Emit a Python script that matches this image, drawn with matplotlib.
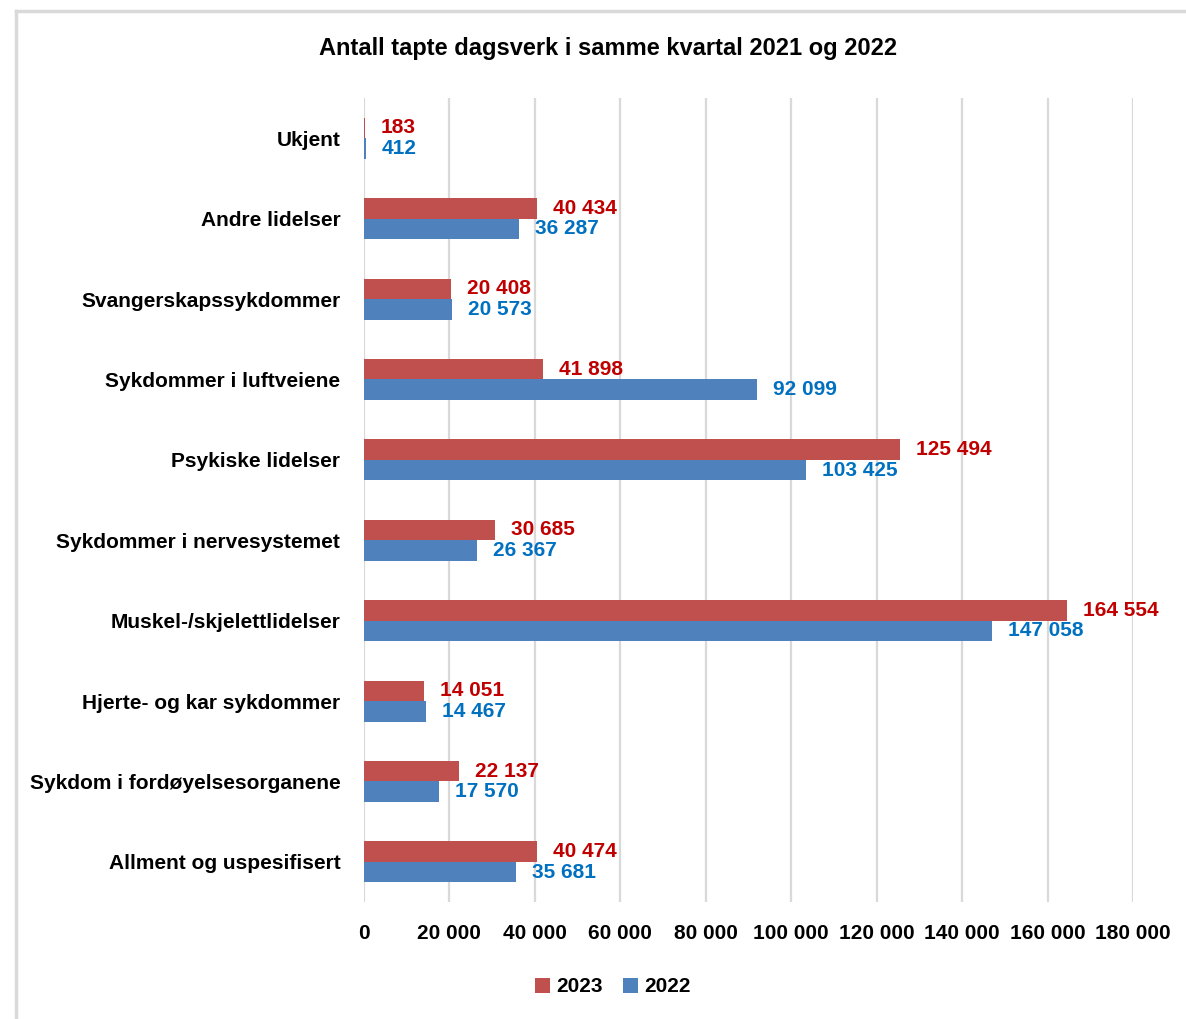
import matplotlib.pyplot as plt
from matplotlib.lines import Line2D
import numpy as np

plt.rcParams['font.family'] = ['Liberation Sans Narrow', 'Liberation Sans', 'DejaVu Sans']
plt.rcParams['font.weight'] = 'bold'

kategorier = ['Ukjent', 'Andre lidelser', 'Svangerskapssykdommer', 'Sykdommer i luftveiene',
              'Psykiske lidelser', 'Sykdommer i nervesystemet', 'Muskel-/skjelettlidelser',
              'Hjerte- og kar sykdommer', 'Sykdom i fordøyelsesorganene', 'Allment og uspesifisert']
verdier_2023 = [183, 40434, 20408, 41898, 125494, 30685, 164554, 14051, 22137, 40474]
verdier_2022 = [412, 36287, 20573, 92099, 103425, 26367, 147058, 14467, 17570, 35681]
x_ticks = [0, 20000, 40000, 60000, 80000, 100000, 120000, 140000, 160000, 180000]


def fmt(v):
    return f'{v:,}'.replace(',', ' ')


fig = plt.figure(figsize=(11.86, 10.19), dpi=100)
ax = fig.add_axes([0.3069, 0.1148, 0.6484, 0.789])

y = np.arange(len(kategorier))
h = 0.255

# Barras
ax.barh(y - h / 2, verdier_2023, height=h, color='#C0504D', label='2023', zorder=3)
ax.barh(y + h / 2, verdier_2022, height=h, color='#4F81BD', label='2022', zorder=3)

# Rótulos de valor
for yi, v in zip(y, verdier_2023):
    ax.annotate(fmt(v), (v, yi - h / 2), xytext=(16, 0), textcoords='offset pixels',
                va='center', ha='left', color='#C00000', fontsize=15, fontweight='bold')
for yi, v in zip(y, verdier_2022):
    ax.annotate(fmt(v), (v, yi + h / 2), xytext=(16, 0), textcoords='offset pixels',
                va='center', ha='left', color='#0070C0', fontsize=15, fontweight='bold')

ax.set_ylim(len(kategorier) - 0.5, -0.5)
ax.set_xlim(0, 180000)
ax.set_yticks(y)
ax.set_yticklabels(kategorier, fontsize=15, fontweight='bold')
ax.set_xticks(x_ticks)
ax.set_xticklabels([fmt(t) for t in x_ticks], fontsize=15, fontweight='bold')
ax.tick_params(axis='both', length=0)
ax.tick_params(axis='y', pad=17)
ax.tick_params(axis='x', pad=16)
ax.grid(axis='x', color='#D9D9D9', linewidth=1.6, zorder=0)
for s in ax.spines.values():
    s.set_visible(False)

fig.text(0.5126, 0.952, 'Antall tapte dagsverk i samme kvartal 2021 og 2022',
         ha='center', va='center', fontsize=17, fontweight='bold')

fig.legend(loc='center', bbox_to_anchor=(613 / 1186, 1 - 987 / 1019), ncol=2, frameon=False,
           handlelength=0.7, handleheight=0.7, handletextpad=0.3, columnspacing=1.0,
           prop={'weight': 'bold', 'size': 15})

# Moldura
fig.add_artist(Line2D([16 / 1186, 1], [1 - 11 / 1019, 1 - 11 / 1019], transform=fig.transFigure,
                      color='#D9D9D9', linewidth=2.5))
fig.add_artist(Line2D([16 / 1186, 16 / 1186], [0, 1 - 11 / 1019], transform=fig.transFigure,
                      color='#D9D9D9', linewidth=2.5))

fig.savefig('out.png', dpi=100)
